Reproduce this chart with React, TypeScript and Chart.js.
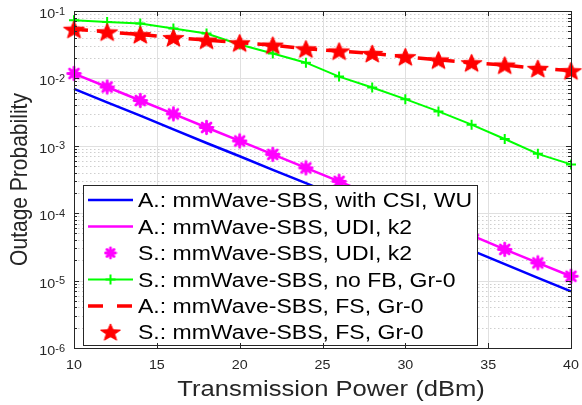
import React, { useEffect, useRef } from "react";
import { Chart, registerables } from "chart.js";

Chart.register(...registerables);

// ---------------- data ----------------
const powerDbm = [10, 12, 14, 16, 18, 20, 22, 24, 26, 28, 30, 32, 34, 36, 38, 40];

const anaCsiWU = [7.0e-3, 4.4e-3, 2.8e-3, 1.75e-3, 1.1e-3, 7.0e-4, 4.4e-4, 2.8e-4, 1.75e-4, 1.1e-4, 7.0e-5, 4.4e-5, 2.8e-5, 1.75e-5, 1.1e-5, 6.9e-6];
const anaUdiK2 = [1.18e-2, 7.45e-3, 4.7e-3, 2.97e-3, 1.87e-3, 1.18e-3, 7.45e-4, 4.7e-4, 2.97e-4, 1.87e-4, 1.18e-4, 7.45e-5, 4.7e-5, 2.9e-5, 1.83e-5, 1.16e-5];
const simUdiK2 = [1.18e-2, 7.45e-3, 4.7e-3, 2.97e-3, 1.87e-3, 1.18e-3, 7.45e-4, 4.7e-4, 2.97e-4, 1.87e-4, 1.18e-4, 7.45e-5, 4.7e-5, 2.9e-5, 1.83e-5, 1.16e-5];
const simNoFb = [0.0729, 0.0689, 0.065, 0.0548, 0.0463, 0.0318, 0.0234, 0.0171, 0.01064, 0.00731, 0.00492, 0.00324, 0.00206, 0.00126, 7.6e-4, 5.3e-4];
const anaFs = [0.0537, 0.049, 0.0447, 0.0403, 0.037, 0.0338, 0.0312, 0.0275, 0.0255, 0.0235, 0.021, 0.0188, 0.0171, 0.0158, 0.0141, 0.013];
const simFs = [0.0537, 0.049, 0.0447, 0.0403, 0.037, 0.0338, 0.0312, 0.0275, 0.0255, 0.0235, 0.021, 0.0188, 0.0171, 0.0158, 0.0141, 0.013];

const xTicks = [10, 15, 20, 25, 30, 35, 40];
const yExponents = [-6, -5, -4, -3, -2, -1];

const legendLabels = [
  "A.: mmWave-SBS, with CSI, WU",
  "A.: mmWave-SBS, UDI, k2",
  "S.: mmWave-SBS, UDI, k2",
  "S.: mmWave-SBS, no FB, Gr-0",
  "A.: mmWave-SBS, FS, Gr-0",
  "S.: mmWave-SBS, FS, Gr-0",
];

const xTitle = "Transmission Power (dBm)";
const yTitle = "Outage Probability";

// ---------------- style ----------------
const BLUE = "#0000ff";
const MAGENTA = "#ff00ff";
const GREEN = "#00ff00";
const RED = "#ff0000";
const AXIS = "#262626";
const FONT = "'Liberation Sans', Arial, Helvetica, sans-serif";
const SX = 1.17;
const RED_DASH = [14, 9];

function makeStar(outer: number, inner: number, sx: number, color: string) {
  const c = document.createElement("canvas");
  const w = Math.ceil(2 * outer * sx) + 4;
  const h = Math.ceil(2 * outer) + 4;
  c.width = w;
  c.height = h;
  const g = c.getContext("2d")!;
  const cx = w / 2;
  const cy = h / 2 + outer * 0.1;
  g.beginPath();
  for (let i = 0; i < 10; i++) {
    const a = -Math.PI / 2 + (i * Math.PI) / 5;
    const r = i % 2 ? inner : outer;
    const px = cx + r * Math.cos(a) * sx;
    const py = cy + r * Math.sin(a);
    if (i === 0) g.moveTo(px, py);
    else g.lineTo(px, py);
  }
  g.closePath();
  g.fillStyle = color;
  g.fill();
  g.strokeStyle = color;
  g.lineWidth = 1;
  g.stroke();
  return c;
}

function makeBlob(r: number, color: string) {
  const c = document.createElement("canvas");
  const s = Math.ceil(2 * r) + 4;
  c.width = s;
  c.height = s;
  const g = c.getContext("2d")!;
  const cx = s / 2;
  g.strokeStyle = color;
  g.lineWidth = 2.8;
  g.lineCap = "round";
  for (let k = 0; k < 4; k++) {
    const a = (k * Math.PI) / 4;
    g.beginPath();
    g.moveTo(cx - r * Math.cos(a), cx - r * Math.sin(a));
    g.lineTo(cx + r * Math.cos(a), cx + r * Math.sin(a));
    g.stroke();
  }
  g.beginPath();
  g.arc(cx, cx, r * 0.72, 0, Math.PI * 2);
  g.fillStyle = color;
  g.fill();
  return c;
}

function stretchedText(ctx: CanvasRenderingContext2D, text: string, x: number, y: number, sx: number, align: "left" | "center" | "right") {
  const w = ctx.measureText(text).width * sx;
  let x0 = x;
  if (align === "center") x0 = x - w / 2;
  if (align === "right") x0 = x - w;
  ctx.save();
  ctx.translate(x0, y);
  ctx.scale(sx, 1);
  ctx.textAlign = "left";
  ctx.fillText(text, 0, 0);
  ctx.restore();
  return w;
}

export default function App() {
  const ref = useRef<HTMLCanvasElement | null>(null);

  useEffect(() => {
    if (!ref.current) return;
    const starPlot = makeStar(9.5, 4, SX, RED);
    const starLegend = makeStar(9, 3.8, SX, RED);
    const blobPlot = makeBlob(6.3, MAGENTA);
    const blobLegend = makeBlob(5, MAGENTA);

    const pts = (vals: number[]) => powerDbm.map((x, i) => ({ x, y: vals[i] }));

    const matlabPlugin = {
      id: "matlabAxes",
      beforeDatasetsDraw(chart: any) {
        const { ctx, chartArea } = chart;
        const { left, right, top, bottom } = chartArea;
        const xs = chart.scales.x;
        const ys = chart.scales.y;
        ctx.save();
        // minor dotted grid
        ctx.strokeStyle = "#cfcfcf";
        ctx.lineWidth = 1;
        ctx.setLineDash([1.5, 2.5]);
        for (const e of yExponents) {
          if (e === -1) continue;
          for (let m = 2; m <= 9; m++) {
            const py = Math.round(ys.getPixelForValue(m * Math.pow(10, e))) + 0.5;
            ctx.beginPath();
            ctx.moveTo(left, py);
            ctx.lineTo(right, py);
            ctx.stroke();
          }
        }
        ctx.setLineDash([]);
        ctx.strokeStyle = "#e0e0e0";
        for (const e of yExponents) {
          const py = Math.round(ys.getPixelForValue(Math.pow(10, e))) + 0.5;
          ctx.beginPath();
          ctx.moveTo(left, py);
          ctx.lineTo(right, py);
          ctx.stroke();
        }
        for (const t of xTicks) {
          const px = Math.round(xs.getPixelForValue(t)) + 0.5;
          ctx.beginPath();
          ctx.moveTo(px, top);
          ctx.lineTo(px, bottom);
          ctx.stroke();
        }
        ctx.restore();
      },
      afterDatasetsDraw(chart: any) {
        const { ctx, chartArea } = chart;
        const { left, right, top, bottom } = chartArea;
        const xs = chart.scales.x;
        const ys = chart.scales.y;
        ctx.save();

        // ----- legend -----
        const lx0 = 83.5, lx1 = 477.5, ly0 = 185.5, ly1 = 345.5;
        ctx.fillStyle = "#ffffff";
        ctx.fillRect(lx0, ly0, lx1 - lx0, ly1 - ly0);
        ctx.strokeStyle = AXIS;
        ctx.lineWidth = 1;
        ctx.strokeRect(lx0, ly0, lx1 - lx0, ly1 - ly0);
        const rowY = [200, 226.5, 253, 279.5, 306, 332];
        const s0 = 88, s1 = 133, sm = (s0 + s1) / 2;
        const seg = (y: number, color: string, lw: number, dash: number[]) => {
          ctx.save();
          ctx.strokeStyle = color;
          ctx.lineWidth = lw;
          ctx.setLineDash(dash);
          ctx.beginPath();
          ctx.moveTo(s0, y);
          ctx.lineTo(s1, y);
          ctx.stroke();
          ctx.restore();
        };
        seg(rowY[0], BLUE, 2.5, []);
        seg(rowY[1], MAGENTA, 2.5, []);
        ctx.drawImage(blobLegend, sm - blobLegend.width / 2, rowY[2] - blobLegend.height / 2);
        seg(rowY[3], GREEN, 2, []);
        ctx.strokeStyle = GREEN;
        ctx.lineWidth = 2;
        ctx.beginPath();
        ctx.moveTo(sm - 5, rowY[3]);
        ctx.lineTo(sm + 5, rowY[3]);
        ctx.moveTo(sm, rowY[3] - 5);
        ctx.lineTo(sm, rowY[3] + 5);
        ctx.stroke();
        seg(rowY[4], RED, 3.5, [15, 14]);
        ctx.drawImage(starLegend, sm - starLegend.width / 2, rowY[5] - starLegend.height / 2);
        ctx.fillStyle = "#000000";
        ctx.font = `19.5px ${FONT}`;
        ctx.textBaseline = "alphabetic";
        legendLabels.forEach((t, i) => stretchedText(ctx, t, 138, rowY[i] + 7, 1.18, "left"));

        // ----- box and ticks -----
        ctx.strokeStyle = AXIS;
        ctx.lineWidth = 1;
        ctx.strokeRect(Math.round(left) + 0.5, Math.round(top) + 0.5, Math.round(right - left), Math.round(bottom - top));
        ctx.beginPath();
        for (const e of yExponents) {
          const py = Math.round(ys.getPixelForValue(Math.pow(10, e))) + 0.5;
          ctx.moveTo(left, py); ctx.lineTo(left + 5, py);
          ctx.moveTo(right, py); ctx.lineTo(right - 5, py);
          if (e === -1) continue;
          for (let m = 2; m <= 9; m++) {
            const pm = Math.round(ys.getPixelForValue(m * Math.pow(10, e))) + 0.5;
            ctx.moveTo(left, pm); ctx.lineTo(left + 3, pm);
            ctx.moveTo(right, pm); ctx.lineTo(right - 3, pm);
          }
        }
        for (const t of xTicks) {
          const px = Math.round(xs.getPixelForValue(t)) + 0.5;
          ctx.moveTo(px, bottom); ctx.lineTo(px, bottom - 5);
          ctx.moveTo(px, top); ctx.lineTo(px, top + 5);
        }
        ctx.stroke();

        // ----- tick labels -----
        ctx.fillStyle = AXIS;
        ctx.textBaseline = "alphabetic";
        ctx.font = `13px ${FONT}`;
        for (const t of xTicks) {
          stretchedText(ctx, String(t), xs.getPixelForValue(t), 369, 1.1, "center");
        }
        for (const e of yExponents) {
          const py = ys.getPixelForValue(Math.pow(10, e));
          ctx.font = `10px ${FONT}`;
          const sup = String(e);
          const sw = ctx.measureText(sup).width * 1.1;
          stretchedText(ctx, sup, 65, py + 3.5, 1.1, "right");
          ctx.font = `13px ${FONT}`;
          stretchedText(ctx, "10", 65 - sw, py + 7, 1.1, "right");
        }

        // ----- axis titles -----
        ctx.font = `21.5px ${FONT}`;
        stretchedText(ctx, xTitle, 331, 396, 1.19, "center");
        ctx.save();
        ctx.translate(27, (top + bottom) / 2);
        ctx.scale(1.14, 1);
        ctx.rotate(-Math.PI / 2);
        ctx.textAlign = "center";
        ctx.font = `21px ${FONT}`;
        ctx.fillText(yTitle, 0, 0);
        ctx.restore();

        ctx.restore();
      },
    };

    const chart = new Chart(ref.current, {
      type: "line",
      data: {
        datasets: [
          { label: legendLabels[0], data: pts(anaCsiWU), borderColor: BLUE, borderWidth: 2.5, pointRadius: 0, order: 6, clip: false },
          { label: legendLabels[1], data: pts(anaUdiK2), borderColor: MAGENTA, borderWidth: 2.5, pointRadius: 0, order: 5, clip: false },
          { label: legendLabels[2], data: pts(simUdiK2), showLine: false, pointStyle: blobPlot, pointRadius: 7, order: 4, clip: false },
          { label: legendLabels[3], data: pts(simNoFb), borderColor: GREEN, borderWidth: 2, pointStyle: "cross", pointRadius: 5, pointBorderWidth: 2, pointBorderColor: GREEN, order: 3, clip: false },
          { label: legendLabels[4], data: pts(anaFs), borderColor: RED, borderWidth: 3.5, borderDash: RED_DASH, pointRadius: 0, order: 2, clip: false },
          { label: legendLabels[5], data: pts(simFs), showLine: false, pointStyle: starPlot, pointRadius: 10, order: 1, clip: false },
        ] as any,
      },
      options: {
        animation: false,
        responsive: false,
        maintainAspectRatio: false,
        layout: { padding: { left: 0, top: 9, right: 9, bottom: 0 } },
        plugins: { legend: { display: false }, tooltip: { enabled: false } },
        elements: { line: { tension: 0 } },
        scales: {
          x: {
            type: "linear",
            min: 10,
            max: 40,
            grid: { display: false },
            border: { display: false },
            ticks: { display: false },
            afterFit: (s: any) => { s.height = 57; },
          },
          y: {
            type: "logarithmic",
            min: 1e-6,
            max: 1e-1,
            grid: { display: false },
            border: { display: false },
            ticks: { display: false },
            afterFit: (s: any) => { s.width = 74; },
          },
        },
      } as any,
      plugins: [matlabPlugin],
    });
    return () => chart.destroy();
  }, []);

  return (
    <div style={{ position: "absolute", left: 0, top: 0, width: 582, height: 405, background: "#ffffff" }}>
      <canvas ref={ref} width={582} height={405} style={{ display: "block" }} />
    </div>
  );
}
